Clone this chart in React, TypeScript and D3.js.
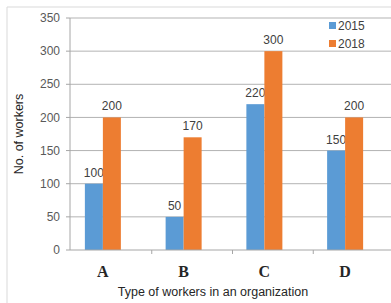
import * as React from 'react';
import * as d3 from 'd3';

const categories = ['A', 'B', 'C', 'D'];
const seriesNames = ['2015', '2018'];
const values2015 = [100, 50, 220, 150];
const values2018 = [200, 170, 300, 200];
const yTicks = [0, 50, 100, 150, 200, 250, 300, 350];

const colors = ['#5b9bd5', '#ed7d31'];
const W = 391;
const H = 303;
const font = '"Liberation Sans", Arial, sans-serif';

export default function App() {
  const x = d3.scaleBand<string>().domain(categories).range([62.5, 385.5]);
  const inner = d3.scaleBand<string>().domain(seriesNames).range([0, 36]);
  const y = d3.scaleLinear().domain([0, 350]).range([250, 18]);
  const axisLeft = 70;
  const plotRight = 391;
  const series = [values2015, values2018];
  const bw = x.bandwidth();
  const tickOffset = 8.5;

  return (
    <svg width={W} height={H} style={{ position: 'absolute', left: 0, top: 0, background: '#fff' }}>
      {/* frame */}
      <line x1={7} x2={W} y1={7} y2={7} stroke="#d9d9d9" />
      <line x1={7} x2={7} y1={7} y2={H} stroke="#d9d9d9" />

      {/* grid + y ticks */}
      {yTicks.map(t => (
        <g key={t}>
          {t > 0 && <line x1={axisLeft} x2={plotRight} y1={y(t)} y2={y(t)} stroke="#b3b3b3" strokeWidth={1} />}
          <line x1={axisLeft - 4} x2={axisLeft} y1={y(t)} y2={y(t)} stroke="#a6a6a6" />
          <text x={60} y={y(t)} dy="0.35em" textAnchor="end" fontSize={12} fill="#595959" fontFamily={font}>{t}</text>
        </g>
      ))}

      {/* bars */}
      {categories.map((c, i) => {
        const gx = x(c)! + bw / 2 - 18;
        return (
          <g key={c}>
            {seriesNames.map((s, j) => {
              const v = series[j][i];
              const bx = gx + inner(s)!;
              return (
                <g key={s}>
                  <rect x={bx} y={y(v)} width={inner.bandwidth()} height={y(0) - y(v)} fill={colors[j]} />
                  <text x={bx + inner.bandwidth() / 2} y={y(v) - 7} textAnchor="middle" fontSize={12} fill="#404040" fontFamily={font}>{v}</text>
                </g>
              );
            })}
            <text x={x(c)! + bw / 2} y={277} textAnchor="middle" fontSize={16} fontWeight="bold" fill="#262626" fontFamily='"Liberation Serif", "Times New Roman", serif'>{c}</text>
          </g>
        );
      })}

      {/* x axis */}
      <line x1={axisLeft} x2={plotRight} y1={y(0)} y2={y(0)} stroke="#a6a6a6" />
      <line x1={axisLeft} x2={axisLeft} y1={y(350)} y2={y(0)} stroke="#a6a6a6" />
      {categories.slice(1).map(c => (
        <line key={c} x1={x(c)! + tickOffset} x2={x(c)! + tickOffset} y1={y(0)} y2={y(0) + 4} stroke="#a6a6a6" />
      ))}

      {/* axis titles */}
      <text x={213} y={296} textAnchor="middle" fontSize={12.5} fill="#262626" fontFamily={font}>Type of workers in an organization</text>
      <text transform={`translate(23,${(y(0) + y(350)) / 2}) rotate(-90)`} textAnchor="middle" fontSize={12.5} fill="#262626" fontFamily={font}>No. of workers</text>

      {/* legend */}
      {seriesNames.map((s, j) => (
        <g key={s} transform={`translate(329,${22 + j * 18})`}>
          <rect x={0} y={0} width={7} height={7} fill={colors[j]} />
          <text x={9} y={3.5} dy="0.35em" fontSize={12} fill="#404040" fontFamily={font}>{s}</text>
        </g>
      ))}
    </svg>
  );
}
